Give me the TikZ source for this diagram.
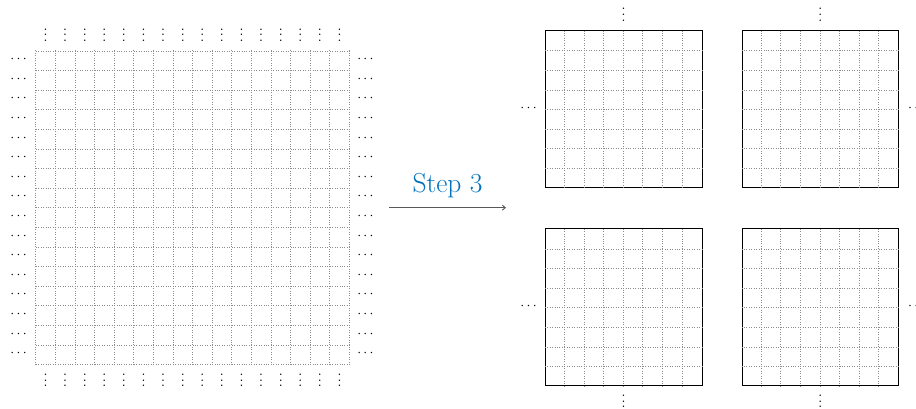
\documentclass[tikz,border=0pt]{standalone}
\usetikzlibrary{positioning,arrows.meta}
\definecolor{stepblue}{RGB}{0,114,189}

\begin{document}
\begin{tikzpicture}
    [x=1pt, y=1pt,
    gridline/.style={dotted, black!45, line width=0.45pt},
    bigblock/.style={inner sep=0pt, minimum width=313.6pt, minimum height=313.6pt},
    subblock/.style={draw, line width=0.8pt, inner sep=0pt, minimum width=156.8pt, minimum height=156.8pt},
    dotsnode/.style={inner sep=0pt, scale=1.4},
    steparrow/.style={-{Straight Barb[length=3pt,width=5pt]}, black!65, line width=0.9pt}]
    \useasboundingbox (0,0) rectangle (916,408);

    %% Lattice before step 3
    \node[bigblock] (L) at (192.7,200.5) {};
    \foreach \i in {0,...,16}{
        \draw[gridline] ([xshift=\i*19.6pt]L.south west) -- ([xshift=\i*19.6pt]L.north west);
        \draw[gridline] ([yshift=\i*19.6pt]L.south west) -- ([yshift=\i*19.6pt]L.south east);
    }
    \foreach \i in {0,...,15}{
        \node[dotsnode, anchor=base] (Lt\i) at ([xshift=9.8pt+\i*19.6pt, yshift=9pt]L.north west) {$\vdots$};
        \node[dotsnode, anchor=base] (Lb\i) at ([xshift=9.8pt+\i*19.6pt, yshift=-22.4pt]L.south west) {$\vdots$};
        \node[dotsnode, anchor=base east] (Ll\i) at ([xshift=-8.6pt, yshift=-12.1pt-\i*19.6pt]L.north west) {$\cdots$};
        \node[dotsnode, anchor=base west] (Lr\i) at ([xshift=7.3pt, yshift=-12.1pt-\i*19.6pt]L.north east) {$\cdots$};
    }

    %% Step 3
    \coordinate (S1) at (389,200.3);
    \coordinate (S2) at (506,200.3);
    \draw[steparrow] (S1) -- node[above=6pt, text=stepblue, font=\fontsize{27.5}{32}\selectfont] (S) {Step 3} (S2);

    %% Four blocks after step 3
    \node[subblock] (q1) at (623.5,299) {};
    \node[subblock, right=39.2pt of q1] (q2) {};
    \node[subblock, below=40.6pt of q1] (q3) {};
    \node[subblock, right=39.2pt of q3] (q4) {};
    \foreach \q in {q1,q2,q3,q4}{
        \foreach \i in {1,...,7}{
            \draw[gridline] ([xshift=\i*19.6pt]\q.south west) -- ([xshift=\i*19.6pt]\q.north west);
            \draw[gridline] ([yshift=\i*19.6pt]\q.south west) -- ([yshift=\i*19.6pt]\q.south east);
        }
    }
    \node[dotsnode, above=8.9pt of q1] (q1t) {$\vdots$};
    \node[dotsnode, above=8.9pt of q2] (q2t) {$\vdots$};
    \node[dotsnode, below=0.5pt of q3] (q3b) {$\vdots$};
    \node[dotsnode, below=0.5pt of q4] (q4b) {$\vdots$};
    \node[dotsnode, anchor=base east] (q1l) at ([xshift=-7.6pt, yshift=-2.5pt]q1.west) {$\cdots$};
    \node[dotsnode, anchor=base east] (q3l) at ([xshift=-7.6pt, yshift=-2.5pt]q3.west) {$\cdots$};
    \node[dotsnode, anchor=base west] (q2r) at ([xshift=8.7pt, yshift=-2.5pt]q2.east) {$\cdots$};
    \node[dotsnode, anchor=base west] (q4r) at ([xshift=8.7pt, yshift=-2.5pt]q4.east) {$\cdots$};
\end{tikzpicture}
\end{document}
